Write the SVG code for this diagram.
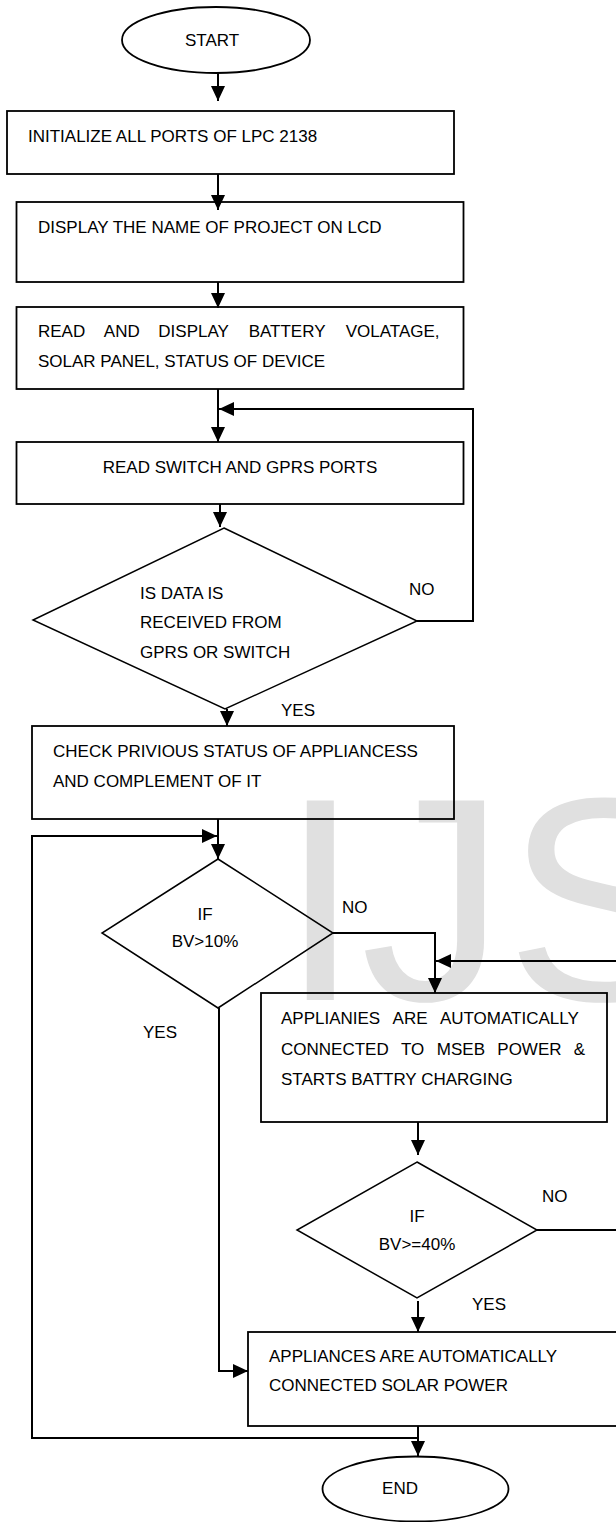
<svg xmlns="http://www.w3.org/2000/svg" width="616" height="1522" viewBox="0 0 616 1522">
<style>
.t{font-family:"Liberation Sans",Arial,sans-serif;font-size:17px;fill:#000}
.m{text-anchor:middle}
.box{fill:none;stroke:#000;stroke-width:1.8}
.dia{fill:none;stroke:#000;stroke-width:1.5}
.c{fill:none;stroke:#000;stroke-width:2}
.wm{font-family:"Liberation Sans",Arial,sans-serif;font-size:290px;fill:#e0e0e0}
</style>
<defs>
<marker id="ah" markerUnits="userSpaceOnUse" markerWidth="16" markerHeight="16" viewBox="0 0 16 16" refX="15" refY="8" orient="auto">
<path d="M0,1 L15,8 L0,15 Z" fill="#000"/>
</marker>
</defs>
<rect width="616" height="1522" fill="#fff"/>
<text class="wm" x="280" y="1000">IJS</text>

<g id="start"><ellipse cx="216" cy="40" rx="94" ry="33" class="box"/><text class="t m" x="212" y="46">START</text></g>
<g id="n1"><rect x="7" y="111" width="447" height="63" class="box"/><text class="t" x="28" y="142">INITIALIZE ALL PORTS OF LPC 2138</text></g>
<g id="n2"><rect x="16.5" y="202" width="447" height="80" class="box"/><text class="t" x="38" y="233">DISPLAY THE NAME OF PROJECT ON LCD</text></g>
<g id="n3"><rect x="16.5" y="307" width="447" height="82" class="box"/><text class="t" y="337"><tspan x="38">READ</tspan><tspan x="103.8">AND</tspan><tspan x="158.3">DISPLAY</tspan><tspan x="248.7">BATTERY</tspan><tspan x="345.7">VOLATAGE,</tspan></text><text class="t" x="38" y="367">SOLAR PANEL, STATUS OF DEVICE</text></g>
<g id="n4"><rect x="16.5" y="442" width="447" height="62" class="box"/><text class="t m" x="240" y="473">READ SWITCH AND GPRS PORTS</text></g>
<g id="d1"><polygon points="224,528 417,621 225,709 33,620" class="dia"/><text class="t" x="140" y="599">IS DATA IS</text><text class="t" x="140" y="628">RECEIVED FROM</text><text class="t" x="140" y="658">GPRS OR SWITCH</text></g>
<g id="n5"><rect x="32" y="726" width="422" height="93" class="box"/><text class="t" x="53" y="757">CHECK PRIVIOUS STATUS OF APPLIANCESS</text><text class="t" x="53" y="787">AND COMPLEMENT OF IT</text></g>
<g id="d2"><polygon points="218,859 333,933 218,1008 102,933" class="dia"/><text class="t m" x="205" y="920">IF</text><text class="t m" x="205" y="947">BV&gt;10%</text></g>
<g id="n6"><rect x="261" y="993" width="346" height="129" class="box"/><text class="t" y="1024"><tspan x="281">APPLIANIES</tspan><tspan x="392.6">ARE</tspan><tspan x="439.9">AUTOMATICALLY</tspan></text><text class="t" y="1055"><tspan x="281">CONNECTED</tspan><tspan x="401">TO</tspan><tspan x="436.8">MSEB</tspan><tspan x="497.3">POWER</tspan><tspan x="573.7">&amp;</tspan></text><text class="t" x="281" y="1085">STARTS BATTRY CHARGING</text></g>
<g id="d3"><polygon points="417,1162 537,1230 417,1298 297,1230" class="dia"/><text class="t m" x="417" y="1222">IF</text><text class="t m" x="417" y="1250">BV&gt;=40%</text></g>
<g id="n7"><rect x="248" y="1332" width="380" height="94" class="box"/><text class="t" x="269" y="1362">APPLIANCES ARE AUTOMATICALLY</text><text class="t" x="269" y="1391">CONNECTED SOLAR POWER</text></g>
<g id="end"><ellipse cx="415.5" cy="1489" rx="93" ry="32.5" class="box"/><text class="t m" x="400" y="1494">END</text></g>

<g id="connectors">
<line x1="218" y1="73" x2="218" y2="101" class="c" marker-end="url(#ah)"/>
<line x1="218" y1="174" x2="218" y2="210" class="c" marker-end="url(#ah)"/>
<line x1="218" y1="282" x2="218" y2="308" class="c" marker-end="url(#ah)"/>
<line x1="218" y1="389" x2="218" y2="442" class="c" marker-end="url(#ah)"/>
<polyline points="417,621 473,621 473,409 219,409" class="c" marker-end="url(#ah)"/>
<line x1="220" y1="504" x2="220" y2="527" class="c" marker-end="url(#ah)"/>
<line x1="227" y1="709" x2="227" y2="726" class="c" marker-end="url(#ah)"/>
<line x1="218" y1="819" x2="218" y2="859" class="c" marker-end="url(#ah)"/>
<polyline points="418,1438 32,1438 32,836 217,836" class="c" marker-end="url(#ah)"/>
<polyline points="333,933 435,933 435,993" class="c" marker-end="url(#ah)"/>
<line x1="616" y1="961" x2="436" y2="961" class="c" marker-end="url(#ah)"/>
<polyline points="219,1008 219,1371 248,1371" class="c" marker-end="url(#ah)"/>
<line x1="418" y1="1122" x2="418" y2="1155" class="c" marker-end="url(#ah)"/>
<line x1="537" y1="1230" x2="616" y2="1230" class="c"/>
<line x1="418" y1="1301" x2="418" y2="1332" class="c" marker-end="url(#ah)"/>
<line x1="418" y1="1426" x2="418" y2="1456" class="c" marker-end="url(#ah)"/>
</g>
<g id="labels">
<text class="t" x="409" y="595">NO</text>
<text class="t" x="281" y="716">YES</text>
<text class="t" x="342" y="913">NO</text>
<text class="t" x="143" y="1038">YES</text>
<text class="t" x="542" y="1202">NO</text>
<text class="t" x="472" y="1310">YES</text>
</g>
</svg>
